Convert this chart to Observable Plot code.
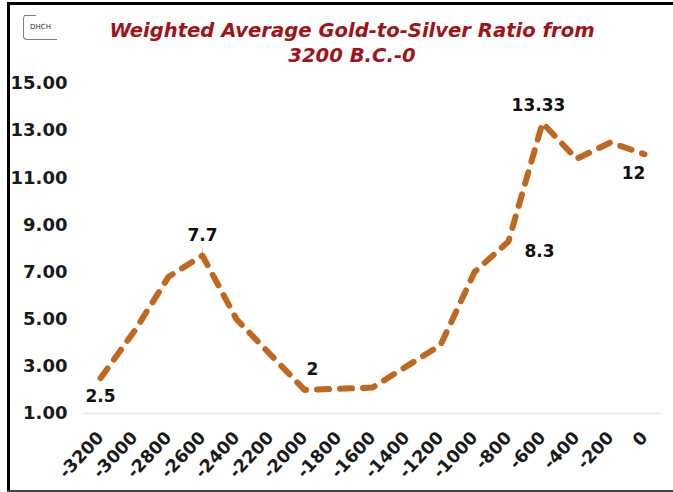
<!DOCTYPE html>
<html>
<head>
<meta charset="utf-8">
<script src="https://cdn.jsdelivr.net/npm/d3@7"></script>
<script src="https://cdn.jsdelivr.net/npm/@observablehq/plot@0.6"></script>
<style>
  html, body { margin: 0; padding: 0; background: #fff; }
  #page { position: relative; width: 673px; height: 492px; overflow: hidden; background: #fff; }
  #rule-top { position: absolute; left: 7px; right: 0; top: 2px; height: 3px; background: #000; }
  #rule-left { position: absolute; left: 7px; top: 2px; bottom: 0; width: 3px; background: #000; }
  #rule-bottom { position: absolute; left: 7px; right: 0; top: 490px; height: 2px; background: #444; }
  #title { position: absolute; left: 32px; width: 640px; top: 18px; text-align: center; font: italic bold 19.6px/25px "DejaVu Sans", sans-serif; color: #a01418; }
  #badge { position: absolute; left: 23px; top: 15px; width: 33px; height: 24px; border-left: 1px solid #6d8296; border-bottom: 1px solid #6d8296; border-bottom-left-radius: 4px; border-top-left-radius: 4px; font: 7px/25px "DejaVu Sans", sans-serif; text-align: center; color: #333; }
  #badge::before { content: ""; position: absolute; left: 0; top: 0; width: 12px; height: 1px; background: #6d8296; }
  svg { position: absolute; left: 0; top: 0; }
</style>
</head>
<body>
<div id="page">
  <div id="rule-top"></div>
  <div id="rule-left"></div>
  <div id="rule-bottom"></div>
  <div id="badge">DHCH</div>
  <div id="title">Weighted Average Gold-to-Silver Ratio from<br>3200 B.C.-0</div>
  <div id="chart"></div>
</div>
<script>
// Gold-to-silver ratio by year, in 200-year steps
const years = [-3200, -3000, -2800, -2600, -2400, -2200, -2000, -1800, -1600, -1400, -1200, -1000, -800, -600, -400, -200, 0];
const ratios = [2.5, 4.5, 6.8, 7.7, 5.0, 3.5, 2, 2.05, 2.1, 3.0, 3.9, 7.0, 8.3, 13.33, 11.8, 12.5, 12];
const yTicks = [1, 3, 5, 7, 9, 11, 13, 15];

// Only these points carry a value label
const labelYears = [-3200, -2600, -2000, -800, -600, 0];
const labelText = ["2.5", "7.7", "2", "8.3", "13.33", "12"];
const labelDx = [0, 0, 8, 31, -4, -11];
const labelDy = [18, -20, -20, 10, -17, 19];

// Thin callout lines run from a point towards its label
const calloutYears = [-2600, -2000, -800, -600, 0];
const calloutEndYears = [-2600, -1945, -750, -625, -65];
const calloutEndRatios = [8.0, 2.45, 8.0, 13.55, 11.75];

const rows = years.map((year, i) => ({year, ratio: ratios[i]}));
const labelled = labelYears.map((year, i) => ({
  year,
  ratio: ratios[years.indexOf(year)],
  text: labelText[i],
  dx: labelDx[i],
  dy: labelDy[i]
}));
const callouts = calloutYears.map((year, i) => ({
  year,
  ratio: ratios[years.indexOf(year)],
  endYear: calloutEndYears[i],
  endRatio: calloutEndRatios[i]
}));

const font = "DejaVu Sans";

const plot = Plot.plot({
  width: 673,
  height: 492,
  marginTop: 83,
  marginBottom: 79,
  marginLeft: 83,
  marginRight: 12,
  style: {background: "transparent", overflow: "visible"},
  x: {type: "point", domain: years, padding: 0.5, label: null},
  y: {domain: [1, 15], label: null},
  marks: [
    Plot.ruleY([1], {stroke: "#e6e6e6", strokeWidth: 1.5}),
    Plot.axisY({
      ticks: yTicks,
      tickFormat: d => d.toFixed(2),
      tickSize: 0,
      tickPadding: 16,
      label: null,
      fontFamily: font,
      fontSize: 18,
      fontWeight: "bold",
      fill: "#1a1a1a"
    }),
    Plot.axisX({
      ticks: years,
      tickFormat: String,
      tickSize: 0,
      tickRotate: -47,
      tickPadding: 21,
      label: null,
      fontFamily: font,
      fontSize: 17.5,
      fontWeight: "bold",
      fill: "#1a1a1a"
    }),
    Plot.link(callouts, {
      x1: "year",
      y1: "ratio",
      x2: "endYear",
      y2: "endRatio",
      stroke: "#c8c8c8",
      strokeWidth: 1
    }),
    Plot.line(rows, {
      x: "year",
      y: "ratio",
      stroke: "#c0681f",
      strokeWidth: 6,
      strokeDasharray: "12 11",
      strokeLinecap: "round",
      strokeLinejoin: "round",
      curve: "linear"
    }),
    ...labelled.map(d => Plot.text([d], {
      x: "year",
      y: "ratio",
      text: "text",
      dx: d.dx,
      dy: d.dy,
      fontFamily: font,
      fontSize: 17,
      fontWeight: "bold",
      fill: "#111"
    }))
  ]
});

document.getElementById("chart").append(plot);
</script>
</body>
</html>
